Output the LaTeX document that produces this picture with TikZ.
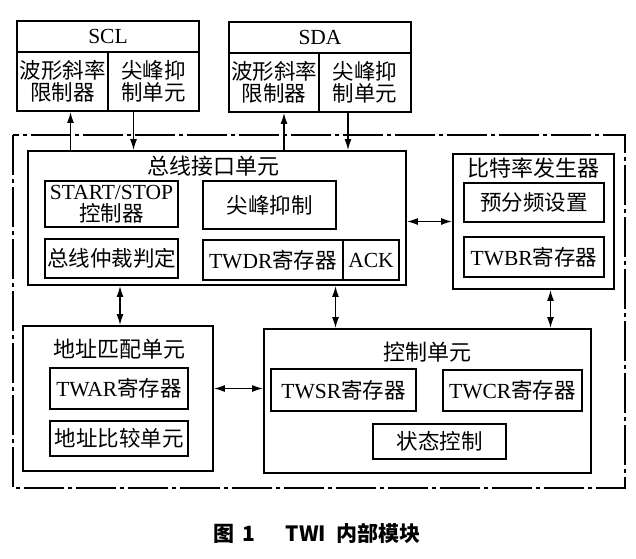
\documentclass[tikz,border=0pt]{standalone}
\usepackage{fontspec}
\setmainfont{Liberation Serif}
\newfontfamily\cjk{Noto Sans CJK SC}
\usetikzlibrary{arrows.meta,positioning,calc}
\newcommand{\zh}[1]{{\cjk #1}}

\begin{document}
\begin{tikzpicture}[x=1pt, y=-1pt,
    unitbox/.style={draw, line width=1.8pt, rectangle, inner sep=0pt},
    subbox/.style={draw, line width=1.8pt, rectangle, inner sep=0pt, align=center, font=\fontsize{21.5}{22}\selectfont},
    ttl/.style={inner sep=0pt, font=\fontsize{22}{23}\selectfont},
    link/.style={line width=1.5pt, -{Latex[length=11pt,width=7pt]}},
    dlink/.style={line width=1.5pt, {Latex[length=11pt,width=7pt]}-{Latex[length=11pt,width=7pt]}}
]
    \useasboundingbox (0,0) rectangle (636,558);

    % Pins SCL / SDA
    \node [subbox, minimum width=182, minimum height=31] (sclhead) at (108,36.5) {SCL};
    \node [subbox, minimum width=91, minimum height=59] (sclwave) at (62.5,81.5) {\zh{波形斜率}\\\zh{限制器}};
    \node [subbox, minimum width=91, minimum height=59] (sclspike) at (153.5,81.5) {\zh{尖峰抑}\\\zh{制单元}};
    \node [subbox, minimum width=182, minimum height=31] (sdahead) at (320,37.5) {SDA};
    \node [subbox, minimum width=90, minimum height=59] (sdawave) at (274,82.5) {\zh{波形斜率}\\\zh{限制器}};
    \node [subbox, minimum width=92, minimum height=59] (sdaspike) at (365,82.5) {\zh{尖峰抑}\\\zh{制单元}};

    % TWI frame
    \draw [line width=1.6pt, dash pattern=on 40pt off 4pt on 4pt off 4pt] (13,135) rectangle (625,488);

    % Bus interface
    \node [unitbox, minimum width=378, minimum height=134] (bus) at (217,218) {};
    \node [ttl] (bustitle) at ([xshift=-4,yshift=-16]bus.north) {\zh{总线接口单元}};
    \node [subbox, minimum width=133, minimum height=46] (startstop) at (111.5,204) {START/STOP\\\zh{控制器}};
    \node [subbox, minimum width=133, minimum height=48] (spike) at (269.5,205) {\zh{尖峰抑制}};
    \node [subbox, minimum width=133, minimum height=39] (arb) at (111.5,258.5) {\zh{总线仲裁判定}};
    \node [subbox, minimum width=140, minimum height=40] (twdr) at (273,260) {TWDR\zh{寄存器}};
    \node [subbox, minimum width=56, minimum height=40] (ack) at (371,260) {ACK};

    % Bit rate generator
    \node [unitbox, minimum width=161, minimum height=135] (baud) at (533.5,221.5) {};
    \node [ttl] (baudtitle) at ([yshift=-15]baud.north) {\zh{比特率发生器}};
    \node [subbox, minimum width=140, minimum height=39] (presc) at (534,202.5) {\zh{预分频设置}};
    \node [subbox, minimum width=140, minimum height=40] (twbr) at (534,257) {TWBR\zh{寄存器}};

    % Address match
    \node [unitbox, minimum width=190, minimum height=145] (addr) at (118,398.5) {};
    \node [ttl] (addrtitle) at ([xshift=1,yshift=-24]addr.north) {\zh{地址匹配单元}};
    \node [subbox, minimum width=138, minimum height=41] (twar) at (119,388.5) {TWAR\zh{寄存器}};
    \node [subbox, minimum width=138, minimum height=35] (cmp) at (119,438.5) {\zh{地址比较单元}};

    % Control unit
    \node [unitbox, minimum width=327, minimum height=144] (ctrl) at (427.5,401) {};
    \node [ttl] (ctrltitle) at ([yshift=-24]ctrl.north) {\zh{控制单元}};
    \node [subbox, minimum width=145, minimum height=42] (twsr) at (343.5,390) {TWSR\zh{寄存器}};
    \node [subbox, minimum width=139, minimum height=41] (twcr) at (512.5,390.5) {TWCR\zh{寄存器}};
    \node [subbox, minimum width=133, minimum height=35] (state) at (439.5,441.5) {\zh{状态控制}};

    % Links
    \draw [link] ([xshift=8]sclwave.south |- bus.north) -- ([xshift=8]sclwave.south);
    \draw [link] ([xshift=-20]sclspike.south) -- ([xshift=-20]sclspike.south |- bus.north);
    \draw [link] ([xshift=10]sdawave.south |- bus.north) -- ([xshift=10]sdawave.south);
    \draw [link] ([xshift=-17]sdaspike.south) -- ([xshift=-17]sdaspike.south |- bus.north);
    \draw [dlink] (bus.east |- baud.west) -- (baud.west);
    \draw [dlink] ([xshift=2]bus.south -| addr.north) -- ([xshift=2]addr.north);
    \draw [dlink] ([xshift=-92]bus.south -| ctrl.north) -- ([xshift=-92]ctrl.north);
    \draw [dlink] ([xshift=17]baud.south) -- ([xshift=17]baud.south |- ctrl.north);
    \draw [dlink] (addr.east |- twar.east) -- (ctrl.west |- twar.east);

    % Caption
    \node [inner sep=0pt, font=\fontsize{21}{23}\selectfont\cjk\bfseries] (caption) at (317,533) {图\hspace{8pt}1\hspace{30pt}TWI\hspace{10pt}内部模块};
\end{tikzpicture}
\end{document}
